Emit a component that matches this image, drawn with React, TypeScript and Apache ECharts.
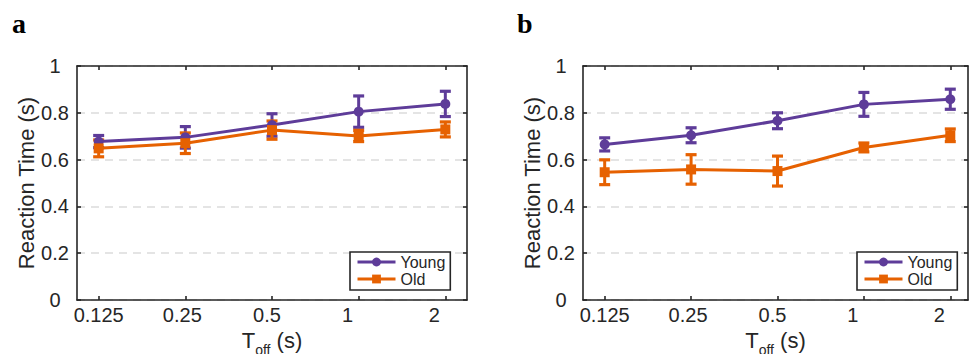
import React, { useEffect, useRef } from "react";
import * as echarts from "echarts";

// ---- data ----
const tOffLabels = ["0.125", "0.25", "0.5", "1", "2"];
const tOffPositions = [1, 2, 3, 4, 5];
const yTicks = [0, 0.2, 0.4, 0.6, 0.8, 1];

const youngA = [0.677, 0.695, 0.748, 0.805, 0.838];
const youngAErr = [0.026, 0.046, 0.048, 0.067, 0.054];
const oldA = [0.648, 0.67, 0.726, 0.701, 0.729];
const oldAErr = [0.036, 0.044, 0.039, 0.024, 0.032];

const youngB = [0.665, 0.704, 0.766, 0.836, 0.858];
const youngBErr = [0.028, 0.032, 0.034, 0.051, 0.043];
const oldB = [0.546, 0.558, 0.551, 0.652, 0.704];
const oldBErr = [0.053, 0.063, 0.064, 0.019, 0.027];

// ---- styles ----
const PURPLE = "#5E3C99";
const ORANGE = "#E66101";
const INK = "#262626";
const FONT = "'Liberation Sans', Arial, Helvetica, sans-serif";
const labelShift = [0, 3, 5, 11, 11];
const LW = 3;

const pts = (vals: number[]) => vals.map((v, i) => [tOffPositions[i], v]);
const errPts = (vals: number[], errs: number[]) =>
  vals.map((v, i) => [tOffPositions[i], v, v - errs[i], v + errs[i]]);

const errRender = (color: string) => (params: any, api: any) => {
  const x = api.value(0);
  const lo = api.coord([x, api.value(2)]);
  const hi = api.coord([x, api.value(3)]);
  const hw = 5.5;
  const st = { stroke: color, lineWidth: LW };
  const cst = { stroke: color, lineWidth: 3.2 };
  return {
    type: "group",
    children: [
      { type: "line", shape: { x1: lo[0], y1: lo[1], x2: hi[0], y2: hi[1] }, style: st },
      { type: "line", shape: { x1: lo[0] - hw, y1: lo[1], x2: lo[0] + hw, y2: lo[1] }, style: cst },
      { type: "line", shape: { x1: hi[0] - hw, y1: hi[1], x2: hi[0] + hw, y2: hi[1] }, style: cst },
    ],
  };
};

const richLabels: any = {};
labelShift.forEach((s, i) => {
  richLabels["s" + i] = {
    fontSize: 20,
    fontFamily: FONT,
    color: INK,
    padding: [0, 2 * s, 0, 0],
  };
});

function makeX(gridIndex: number, min: number, max: number) {
  const common = {
    type: "value",
    gridIndex,
    min,
    max,
    axisLine: { show: true, onZero: false, lineStyle: { color: INK, width: 1.6 } },
    axisTick: {
      show: true,
      inside: true,
      length: 4,
      customValues: tOffPositions,
      lineStyle: { color: INK, width: 1.6 },
    },
    splitLine: { show: false },
  };
  return [
    {
      ...common,
      position: "bottom",
      name: "{t|T}{sub|off}{t| (s)}",
      nameLocation: "middle",
      nameGap: 21,
      nameTextStyle: {
        rich: {
          t: { fontSize: 22, fontFamily: FONT, color: INK, lineHeight: 22, verticalAlign: "top" },
          sub: {
            fontSize: 14,
            fontFamily: FONT,
            color: INK,
            lineHeight: 14,
            verticalAlign: "top",
            padding: [13, 0, 0, 0],
          },
        },
      },
      axisLabel: {
        show: true,
        margin: 5,
        customValues: tOffPositions,
        formatter: (v: number) => {
          const i = tOffPositions.indexOf(v);
          return i >= 0 ? `{s${i}|${tOffLabels[i]}}` : "";
        },
        rich: richLabels,
      },
    },
    { ...common, position: "top", axisLabel: { show: false } },
  ];
}

function makeY(gridIndex: number) {
  const common = {
    type: "value",
    gridIndex,
    min: 0,
    max: 1,
    interval: 0.2,
    axisLine: { show: true, onZero: false, lineStyle: { color: INK, width: 1.6 } },
    axisTick: { show: true, inside: true, length: 4, lineStyle: { color: INK, width: 1.6 } },
  };
  return [
    {
      ...common,
      position: "left",
      name: "Reaction Time (s)",
      nameLocation: "middle",
      nameGap: 37,
      nameTextStyle: { fontSize: 22, fontFamily: FONT, color: INK },
      splitLine: { show: true, lineStyle: { color: "#dcdcdc", width: 1.6, type: [8, 6] } },
      axisLabel: {
        show: true,
        align: "center",
        margin: 22,
        fontSize: 20,
        fontFamily: FONT,
        color: INK,
        formatter: (v: number) => {
          const i = yTicks.findIndex((t) => Math.abs(t - v) < 1e-9);
          return i >= 0 ? String(yTicks[i]) : "";
        },
      },
    },
    { ...common, position: "right", axisLabel: { show: false }, splitLine: { show: false } },
  ];
}

function panelSeries(xi: number, yi: number, young: number[], youngErr: number[], old: number[], oldErr: number[]) {
  const line = (name: string, color: string, data: number[][], symbol: string, size: number) => ({
    type: "line",
    name,
    xAxisIndex: xi,
    yAxisIndex: yi,
    data,
    symbol,
    symbolSize: size,
    showSymbol: true,
    lineStyle: { color, width: LW },
    itemStyle: { color },
    z: 3,
  });
  const err = (name: string, color: string, data: number[][]) => ({
    type: "custom",
    name,
    xAxisIndex: xi,
    yAxisIndex: yi,
    data,
    encode: { x: 0, y: [1, 2, 3] },
    renderItem: errRender(color),
    z: 3,
  });
  return [
    err("Young err", PURPLE, errPts(young, youngErr)),
    line("Young", PURPLE, pts(young), "circle", 10),
    err("Old err", ORANGE, errPts(old, oldErr)),
    line("Old", ORANGE, pts(old), "rect", 10),
  ];
}

function makeLegend(left: number) {
  return {
    show: true,
    data: ["Young", "Old"],
    orient: "vertical",
    left,
    top: 252,
    itemWidth: 38,
    itemHeight: 11,
    itemGap: 1,
    padding: [2, 5, 3, 6],
    backgroundColor: "#ffffff",
    borderColor: INK,
    borderWidth: 1.6,
    borderRadius: 0,
    selectedMode: false,
    lineStyle: { width: LW },
    textStyle: { fontSize: 16, fontFamily: FONT, color: INK, lineHeight: 16 },
  };
}

export default function App() {
  const ref = useRef<HTMLDivElement>(null);
  useEffect(() => {
    document.body.style.margin = "0";
    if (!ref.current) return;
    const chart = echarts.init(ref.current, undefined, { renderer: "svg" });
    const xs = [...makeX(0, 0.75, 5.25), ...makeX(1, 0.749, 5.205)];
    const ys = [...makeY(0), ...makeY(1)];
    chart.setOption({
      animation: false,
      backgroundColor: "#ffffff",
      grid: [
        { left: 77, top: 66, width: 390, height: 234, containLabel: false, outerBoundsMode: "none" },
        { left: 583, top: 66, width: 385, height: 234, containLabel: false, outerBoundsMode: "none" },
      ],
      xAxis: xs,
      yAxis: ys,
      legend: [makeLegend(350), makeLegend(857)],
      graphic: [
        {
          type: "text",
          left: 12,
          top: 9,
          style: { text: "a", font: "bold 28px 'Liberation Serif', 'Times New Roman', serif", fill: "#000" },
        },
        {
          type: "text",
          left: 517,
          top: 9,
          style: { text: "b", font: "bold 28px 'Liberation Serif', 'Times New Roman', serif", fill: "#000" },
        },
      ],
      series: [
        ...panelSeries(0, 0, youngA, youngAErr, oldA, oldAErr),
        ...panelSeries(2, 2, youngB, youngBErr, oldB, oldBErr),
      ],
    });
    return () => chart.dispose();
  }, []);
  return <div ref={ref} style={{ width: 969, height: 354 }} />;
}
